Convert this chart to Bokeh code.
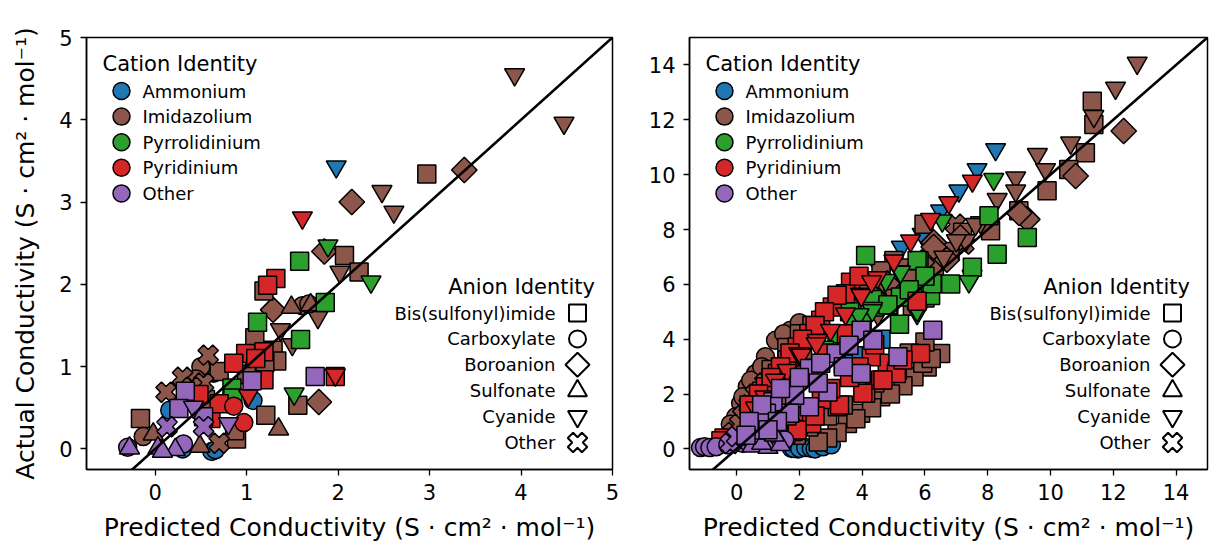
import numpy as np
from bokeh.plotting import figure
from bokeh.models import Range1d, FixedTicker, Label, ColumnDataSource
from bokeh.layouts import row
from bokeh.embed import file_html
from bokeh.resources import INLINE

# ---------------- categories ----------------
CATIONS = ["Ammonium", "Imidazolium", "Pyrrolidinium", "Pyridinium", "Other"]
CATION_COLORS = ["#1f77b4", "#8c564b", "#2ca02c", "#d62728", "#9467bd"]
ANIONS = ["Bis(sulfonyl)imide", "Carboxylate", "Boroanion", "Sulfonate", "Cyanide", "Other"]
ANION_CODES = ["S", "C", "B", "T", "N", "X"]

X_TITLE = "Predicted Conductivity (S · cm² · mol⁻¹)"
Y_TITLE = "Actual Conductivity (S · cm² · mol⁻¹)"

LEFT_TICKS = [0, 1, 2, 3, 4, 5]
RIGHT_TICKS = [0, 2, 4, 6, 8, 10, 12, 14]

# ---------------- left panel data: (anion code, predicted, actual) ----------------
left_ammonium = [
    ("N", 1.98, 3.43),
    ("C", 0.64, 0.92), ("C", 0.16, 0.47), ("C", 1.07, 0.59), ("C", 0.30, 0.00),
    ("C", 0.62, -0.03), ("C", 0.66, -0.01),
]
left_imidazolium = [
    ("N", 3.93, 4.55), ("N", 4.47, 3.96), ("N", 2.48, 3.13), ("N", 2.61, 2.88), ("N", 2.02, 2.15),
    ("N", 1.78, 1.60), ("N", 1.37, 1.45), ("N", 1.50, 1.27), ("N", 1.05, 1.10), ("N", 1.20, 0.95),
    ("B", 3.38, 3.39), ("B", 2.15, 3.00), ("B", 1.85, 2.40), ("B", 1.29, 1.69), ("B", 1.79, 0.57),
    ("B", 1.10, 1.00),
    ("S", 2.97, 3.34), ("S", 2.07, 2.35), ("S", 2.23, 2.15), ("S", 1.19, 1.92), ("S", 1.09, 1.35),
    ("S", 1.29, 1.20), ("S", 1.33, 1.07), ("S", 1.56, 0.53), ("S", 1.21, 0.41), ("S", -0.16, 0.37),
    ("S", 0.89, 0.12), ("S", 0.87, 0.22), ("S", 1.20, 1.05), ("S", 1.00, 0.90), ("S", 0.55, 0.60),
    ("S", 0.70, 0.94),
    ("C", 1.61, 1.74), ("C", 1.68, 1.76), ("C", 0.50, 1.00), ("C", -0.13, 0.15), ("C", 0.45, 0.85),
    ("T", 1.49, 1.72), ("T", 1.35, 0.24), ("T", -0.02, 0.18), ("T", 0.49, 0.03), ("T", 1.70, 1.75),
    ("X", 0.58, 1.14), ("X", 0.30, 0.87), ("X", 0.12, 0.69), ("X", 0.70, 0.07), ("X", 0.53, 0.80),
    ("X", 0.40, 0.75),
]
left_pyrrolidinium = [
    ("S", 1.58, 2.28), ("S", 1.86, 1.78), ("S", 1.12, 1.54), ("S", 1.59, 1.33), ("S", 0.84, 0.74),
    ("S", 0.85, 0.62),
    ("N", 1.89, 2.47), ("N", 2.36, 2.03), ("N", 1.52, 0.67),
]
left_pyridinium = [
    ("N", 1.61, 2.81), ("N", 1.02, 0.65),
    ("S", 1.32, 2.07), ("S", 1.23, 1.99), ("S", 0.99, 1.16), ("S", 0.86, 1.04), ("S", 1.19, 1.18),
    ("S", 1.19, 0.84), ("S", 1.97, 0.88), ("S", 0.48, 0.66), ("S", 0.61, 0.37), ("S", 1.10, 1.10),
    ("S", 0.70, 0.55),
    ("N", 1.97, 0.90),
    ("C", 0.86, 0.52), ("C", 0.97, 0.32),
]
left_other = [
    ("S", 0.33, 0.70), ("S", 1.06, 0.83), ("S", 1.75, 0.88), ("S", 0.26, 0.49), ("S", 0.53, 0.39),
    ("X", 0.13, 0.27), ("X", 0.53, 0.27),
    ("N", 0.80, 0.31), ("N", 0.42, 0.51),
    ("C", 0.31, 0.06), ("C", -0.30, 0.02),
    ("T", -0.28, 0.01), ("T", 0.03, 0.01), ("T", 0.22, -0.01), ("T", 0.08, -0.03),
]

# ---------------- right panel data: (anion code, predicted, actual) ----------------
right_ammonium = [
    ("C", 1.75, 0.02), ("C", 1.95, 0.00), ("C", 1.82, 0.02), ("C", 2.01, 0.02), ("C", 2.20, 0.05),
    ("C", 2.38, 0.02), ("C", 2.50, 0.00), ("C", 2.75, 0.08), ("C", 3.02, 0.15),
    ("S", 3.90, 3.40), ("S", 4.60, 4.00), ("S", 3.40, 3.10),
    ("N", 8.25, 10.92), ("N", 7.66, 10.19), ("N", 7.08, 9.41), ("N", 6.50, 8.68), ("N", 5.91, 7.83),
    ("N", 4.69, 6.50), ("N", 5.25, 7.36), ("N", 4.58, 6.53), ("N", 4.10, 5.80),
]
right_imidazolium = [
    ("C", 1.24, 3.96), ("C", 0.92, 3.36), ("C", 0.61, 2.75), ("C", 0.34, 2.27), ("C", 0.13, 1.66),
    ("C", -0.03, 1.17), ("C", 1.72, 4.33), ("C", 1.50, 4.20), ("C", 0.45, 2.50), ("C", 0.20, 1.90),
    ("C", -0.20, 0.90), ("C", 2.00, 4.60), ("C", 0.80, 3.00),
    ("X", 0.20, 1.20), ("X", -0.10, 0.60), ("X", 0.40, 1.60), ("X", 0.60, 2.00), ("X", 0.90, 2.40),
    ("X", 0.10, 0.90), ("X", 6.97, 8.19), ("X", 7.24, 7.47),
    ("T", 0.50, 1.20), ("T", 1.50, 1.80), ("T", 1.00, 1.00),
    ("S", 11.33, 12.68), ("S", 11.38, 11.83), ("S", 11.11, 10.80), ("S", 10.58, 10.19), ("S", 9.89, 9.41),
    ("S", 8.99, 8.68), ("S", 8.09, 7.95), ("S", 5.97, 8.19), ("S", 5.01, 6.87), ("S", 5.40, 6.60),
    ("S", 5.80, 6.20), ("S", 6.30, 6.60), ("S", 6.80, 7.20), ("S", 7.20, 7.90), ("S", 4.60, 6.50),
    ("S", 4.20, 5.90), ("S", 4.90, 6.00), ("S", 5.60, 5.20), ("S", 6.00, 5.50), ("S", 6.50, 3.48),
    ("S", 6.07, 2.99), ("S", 5.65, 2.63), ("S", 4.59, 1.90), ("S", 3.95, 1.30), ("S", 3.53, 0.93),
    ("S", 5.93, 3.12), ("S", 6.20, 3.30), ("S", 5.30, 2.30), ("S", 4.90, 2.00), ("S", 4.30, 1.50),
    ("S", 3.20, 0.60), ("S", 2.90, 0.40), ("S", 2.60, 0.25), ("S", 3.80, 1.10), ("S", 5.00, 2.90),
    ("S", 4.40, 2.40), ("S", 3.40, 1.60), ("S", 2.90, 1.20), ("S", 2.30, 0.80), ("S", 1.90, 0.50),
    ("S", 6.00, 3.90), ("S", 5.50, 3.50), ("S", 1.10, 2.90), ("S", 1.60, 3.70), ("S", 2.00, 4.20),
    ("S", 2.40, 4.50), ("S", 2.10, 3.60), ("S", 1.40, 3.00), ("S", 0.80, 2.10),
    ("B", 12.33, 11.59), ("B", 10.80, 9.95), ("B", 9.26, 8.37), ("B", 9.00, 8.60), ("B", 6.28, 7.53),
    ("B", 7.13, 7.71), ("B", 6.28, 7.36), ("B", 4.80, 6.03), ("B", 5.50, 6.30), ("B", 5.90, 6.80),
    ("B", 4.40, 5.50), ("B", 6.70, 6.90), ("B", 3.60, 5.20),
    ("N", 12.76, 14.07), ("N", 12.07, 13.16), ("N", 11.38, 12.13), ("N", 10.64, 11.16), ("N", 9.58, 10.74),
    ("N", 9.84, 10.19), ("N", 8.89, 9.89), ("N", 8.89, 9.41), ("N", 8.30, 9.10), ("N", 7.77, 8.25),
    ("N", 7.61, 8.19), ("N", 7.30, 7.60), ("N", 6.60, 7.00), ("N", 7.50, 6.30), ("N", 5.00, 5.60),
    ("N", 4.50, 4.90), ("N", 3.30, 4.00), ("N", 7.00, 7.60),
]
right_pyrrolidinium = [
    ("S", 8.04, 8.50), ("S", 9.26, 7.71), ("S", 8.30, 7.10), ("S", 7.51, 6.62), ("S", 6.82, 6.01),
    ("S", 6.18, 5.59), ("S", 4.11, 7.05), ("S", 5.81, 6.86), ("S", 4.85, 5.24), ("S", 5.22, 5.54),
    ("S", 4.37, 5.17), ("S", 6.23, 6.02), ("S", 5.75, 6.87), ("S", 4.33, 5.45), ("S", 4.82, 5.26),
    ("S", 5.19, 4.55), ("S", 3.60, 5.00), ("S", 4.00, 4.60), ("S", 6.00, 6.30), ("S", 5.50, 5.80),
    ("S", 3.20, 4.20), ("S", 2.80, 3.60),
    ("T", 4.00, 4.20),
    ("N", 8.19, 9.83), ("N", 6.55, 8.32), ("N", 5.19, 6.47), ("N", 5.22, 6.45), ("N", 4.33, 5.13),
    ("N", 5.75, 4.94), ("N", 4.75, 6.15), ("N", 5.75, 5.05), ("N", 4.32, 5.05), ("N", 7.40, 6.10),
    ("N", 3.60, 4.70), ("N", 3.90, 4.90),
]
right_pyridinium = [
    ("C", 2.36, 0.93), ("C", 1.98, 0.63), ("C", 1.60, 0.40), ("C", 2.20, 1.30),
    ("S", 3.63, 6.08), ("S", 3.47, 5.66), ("S", 3.05, 5.17), ("S", 2.68, 4.69), ("S", 2.30, 4.21),
    ("S", 1.93, 3.72), ("S", 1.61, 3.24), ("S", 1.30, 2.75), ("S", 0.92, 2.27), ("S", 3.20, 5.60),
    ("S", 2.80, 5.00), ("S", 2.50, 4.50), ("S", 2.10, 4.00), ("S", 1.70, 3.50), ("S", 1.40, 3.00),
    ("S", 1.10, 2.60), ("S", 0.70, 2.00), ("S", 0.40, 1.60), ("S", 3.90, 6.30), ("S", 4.80, 3.12),
    ("S", 4.11, 2.03), ("S", 4.59, 2.51), ("S", 5.12, 2.87), ("S", 5.86, 3.48), ("S", 3.21, 1.54),
    ("S", 2.39, 0.93), ("S", 1.93, 0.69), ("S", 5.09, 2.75), ("S", 4.02, 2.03), ("S", 3.28, 1.60),
    ("S", 4.66, 2.51), ("S", 5.30, 3.24), ("S", 4.29, 3.36), ("S", 3.60, 2.60), ("S", 3.00, 2.20),
    ("S", 2.70, 1.80), ("S", 5.75, 5.38), ("S", 3.50, 4.20), ("S", 2.80, 3.50), ("S", 1.20, 0.60),
    ("S", 0.50, 0.90), ("S", -0.40, 0.40), ("S", -0.50, 0.30), ("S", 2.20, 2.70), ("S", 3.90, 3.00),
    ("S", 4.40, 3.80), ("S", 2.50, 1.20), ("S", 1.60, 1.20),
    ("N", 7.51, 9.77), ("N", 6.76, 8.98), ("N", 6.18, 8.37), ("N", 5.54, 7.59), ("N", 5.01, 6.86),
    ("N", 4.48, 6.25), ("N", 3.95, 5.65), ("N", 3.47, 4.93), ("N", 2.99, 4.33), ("N", 2.57, 3.96),
    ("N", 1.98, 3.48), ("N", 1.61, 2.87), ("N", 1.24, 2.51), ("N", 3.97, 5.60), ("N", 2.54, 3.84),
    ("N", 2.06, 3.42), ("N", 4.30, 6.10), ("N", 0.90, 1.90), ("N", 0.60, 1.50),
]
right_other = [
    ("C", -1.15, 0.05), ("C", -1.02, 0.08), ("C", -0.85, 0.05), ("C", -0.65, 0.08), ("C", -0.28, 0.15),
    ("C", 0.20, 0.20), ("C", 0.60, 0.30), ("C", 1.20, 0.30), ("C", 1.53, 0.33),
    ("X", 0.10, 0.30), ("X", 0.40, 0.50), ("X", 0.70, 0.80), ("X", -0.20, 0.20), ("X", 1.00, 0.60),
    ("X", 0.00, 0.45),
    ("T", 0.50, 0.10), ("T", 1.00, 0.05), ("T", 1.40, 0.15), ("T", 0.80, 0.20), ("T", 1.20, 0.50),
    ("N", 0.60, 0.60), ("N", 1.10, 1.30),
    ("S", 6.25, 4.33), ("S", 5.14, 3.36), ("S", 3.97, 2.75), ("S", 2.91, 2.08), ("S", 2.32, 2.93),
    ("S", 3.17, 3.48), ("S", 3.97, 4.33), ("S", 4.34, 3.96), ("S", 2.32, 1.54), ("S", 1.85, 1.96),
    ("S", 1.69, 1.30), ("S", 1.16, 1.72), ("S", 0.95, 1.30), ("S", 0.63, 0.69), ("S", 3.58, 3.78),
    ("S", 2.68, 3.12), ("S", 2.00, 2.60), ("S", 1.40, 2.20), ("S", 0.80, 1.60), ("S", 1.30, 1.00),
    ("S", 0.40, 1.00), ("S", 2.60, 2.40), ("S", 3.40, 3.00), ("S", 1.00, 0.70), ("S", 0.30, 0.50),
]

LEFT_DATA = [left_ammonium, left_imidazolium, left_pyrrolidinium, left_pyridinium, left_other]
RIGHT_DATA = [right_ammonium, right_imidazolium, right_pyrrolidinium, right_pyridinium, right_other]

# ---------------- styling ----------------
FONT = "DejaVu Sans"
STYLE = {
    "S": ("square", 0.0, 18),
    "C": ("circle", 0.0, 18),
    "B": ("square", np.pi / 4, 18),
    "T": ("triangle", 0.0, 20),
    "N": ("inverted_triangle", 0.0, 20),
    "X": ("plus", np.pi / 4, 21),
}

FRAME_H = 432
TOP_B = 37
BOT_B = 80


def make_panel(data, xr, yr, ticks, fw, left_b, right_b, ylabel):
    p = figure(frame_width=fw, frame_height=FRAME_H,
               x_range=Range1d(*xr), y_range=Range1d(*yr),
               output_backend="svg", toolbar_location=None,
               min_border_left=left_b, min_border_right=right_b,
               min_border_top=TOP_B, min_border_bottom=BOT_B,
               background_fill_color="white", border_fill_color="white")
    p.xgrid.visible = False
    p.ygrid.visible = False
    p.outline_line_color = "black"
    p.outline_line_width = 1.5
    for ax in (p.xaxis[0], p.yaxis[0]):
        ax.ticker = FixedTicker(ticks=ticks)
        ax.axis_line_color = "black"
        ax.axis_line_width = 1.5
        ax.major_tick_line_color = "black"
        ax.major_tick_line_width = 1.3
        ax.major_tick_out = 6
        ax.major_tick_in = 0
        ax.minor_tick_line_color = None
        ax.major_label_text_font = FONT
        ax.major_label_text_font_size = "21px"
        ax.major_label_text_color = "black"
        ax.major_label_standoff = 8
        ax.axis_label_text_font = FONT
        ax.axis_label_text_font_size = "25px"
        ax.axis_label_text_font_style = "normal"
        ax.axis_label_text_color = "black"
    p.xaxis.axis_label = X_TITLE
    p.xaxis.axis_label_standoff = 10
    if ylabel:
        p.yaxis.axis_label = Y_TITLE
        p.yaxis.axis_label_standoff = 16

    # data points, one renderer per cation, in legend order
    for color, rows in zip(CATION_COLORS, data):
        src = ColumnDataSource(dict(
            x=[r[1] for r in rows],
            y=[r[2] for r in rows],
            marker=[STYLE[r[0]][0] for r in rows],
            angle=[STYLE[r[0]][1] for r in rows],
            size=[STYLE[r[0]][2] for r in rows],
        ))
        p.scatter(x="x", y="y", marker="marker", angle="angle", size="size", source=src,
                  fill_color=color, line_color="black", line_width=1.5)

    # parity line
    p.line(x=[xr[0] - 1, xr[1] + 1], y=[xr[0] - 1, xr[1] + 1], line_color="black", line_width=2.6)

    # helpers: frame pixel offsets -> data coordinates
    sx = (xr[1] - xr[0]) / fw
    sy = (yr[1] - yr[0]) / FRAME_H
    from_left = lambda px: xr[0] + px * sx
    from_right = lambda px: xr[1] - px * sx
    from_top = lambda py: yr[1] - py * sy
    from_bottom = lambda py: yr[0] + py * sy

    # cation legend (upper left)
    p.add_layout(Label(x=from_left(16), y=from_top(26), text="Cation Identity",
                       text_font=FONT, text_font_size="21px", text_color="black",
                       text_baseline="middle", text_align="left"))
    cy = [from_top(53.5 + 25.6 * i) for i in range(len(CATIONS))]
    p.scatter(x=[from_left(35)] * len(CATIONS), y=cy, marker="circle", size=17,
              fill_color=CATION_COLORS, line_color="black", line_width=1.5)
    for name, yy in zip(CATIONS, cy):
        p.add_layout(Label(x=from_left(56), y=yy, text=name,
                           text_font=FONT, text_font_size="18px", text_color="black",
                           text_baseline="middle", text_align="left"))

    # anion legend (lower right, markers after text)
    p.add_layout(Label(x=from_right(17.5), y=from_bottom(183), text="Anion Identity",
                       text_font=FONT, text_font_size="21px", text_color="black",
                       text_baseline="middle", text_align="right"))
    ay = [from_bottom(156.5 - 25.9 * i) for i in range(len(ANIONS))]
    amx = [from_right(35)] * len(ANIONS)
    p.scatter(x=amx, y=ay,
              marker=[STYLE[c][0] for c in ANION_CODES],
              angle=[STYLE[c][1] for c in ANION_CODES],
              size=[STYLE[c][2] - 1 for c in ANION_CODES],
              fill_color="white", line_color="black", line_width=2)
    for name, yy in zip(ANIONS, ay):
        p.add_layout(Label(x=from_right(57), y=yy, text=name,
                           text_font=FONT, text_font_size="18px", text_color="black",
                           text_baseline="middle", text_align="right"))
    return p


p_left = make_panel(LEFT_DATA, (-0.75, 5.0), (-0.25, 5.0), LEFT_TICKS, 526, 86, 12, True)
p_right = make_panel(RIGHT_DATA, (-1.5, 15.0), (-0.75, 15.0), RIGHT_TICKS, 518, 65, 5, False)

layout = row(p_left, p_right)
open("out.html", "w").write(file_html(layout, INLINE))
